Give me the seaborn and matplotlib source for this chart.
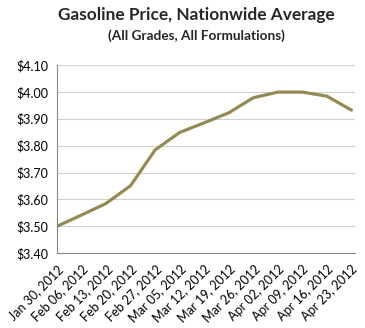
import matplotlib
matplotlib.use("Agg")
import matplotlib.pyplot as plt
import seaborn as sns
import pandas as pd

dates = ["Jan 30, 2012", "Feb 06, 2012", "Feb 13, 2012", "Feb 20, 2012", "Feb 27, 2012",
         "Mar 05, 2012", "Mar 12, 2012", "Mar 19, 2012", "Mar 26, 2012", "Apr 02, 2012",
         "Apr 09, 2012", "Apr 16, 2012", "Apr 23, 2012"]
prices = [3.500, 3.542, 3.585, 3.651, 3.784, 3.849, 3.885, 3.922, 3.978, 3.999, 3.999, 3.984, 3.932]
yticks = [3.40, 3.50, 3.60, 3.70, 3.80, 3.90, 4.00, 4.10]

sns.set_style("white")
plt.rcParams['font.family'] = ['Lato', 'DejaVu Sans']

df = pd.DataFrame({"pos": range(len(dates)), "price": prices})

fig = plt.figure(figsize=(3.65, 3.28), dpi=100)
ax = fig.add_axes([0.156, 0.228, 0.817, 0.574])
sns.lineplot(data=df, x="pos", y="price", ax=ax, color="#948A54", linewidth=2.3)

ax.set_xlim(0, len(dates) - 1 + 0.15)
ax.set_ylim(3.40, 4.10)
ax.set_yticks(yticks)
ax.set_yticklabels([f"${v:.2f}" for v in yticks], fontsize=9)
ax.set_xticks(range(len(dates)))
ax.set_xticklabels(dates, rotation=45, ha="right", rotation_mode="anchor", fontsize=9)
ax.set_xlabel("")
ax.set_ylabel("")
ax.yaxis.grid(True, color="#D0D0D0", linewidth=0.8)
ax.set_axisbelow(True)
for s in ["top", "right"]:
    ax.spines[s].set_visible(False)
for s in ["left", "bottom"]:
    ax.spines[s].set_color("#868686")
    ax.spines[s].set_linewidth(0.8)
ax.tick_params(axis="both", which="major", direction="out", length=4, width=0.8,
               color="#868686", pad=2, labelcolor="#000000")
ax.tick_params(axis="x", pad=3)

fig.text(0.537, 0.955, "Gasoline Price, Nationwide Average", ha="center", va="center",
         fontsize=12.4, fontweight="bold")
fig.text(0.537, 0.89, "(All Grades, All Formulations)", ha="center", va="center",
         fontsize=9.8, fontweight="bold")

fig.savefig("out.png", dpi=100)
